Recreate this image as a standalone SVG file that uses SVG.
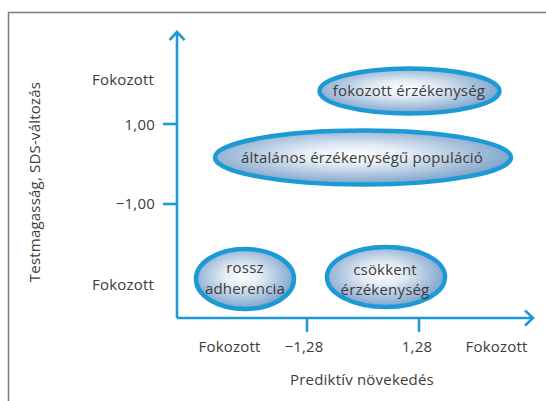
<svg xmlns="http://www.w3.org/2000/svg" width="546" height="401" viewBox="0 0 546 401">
<defs>
<radialGradient id="g" cx="0.47" cy="0.45" r="0.6">
<stop offset="0" stop-color="#ffffff"/>
<stop offset="0.3" stop-color="#e3ecf5"/>
<stop offset="1" stop-color="#6f99c4"/>
</radialGradient>
<marker id="ah" markerWidth="14" markerHeight="18" refX="10" refY="9" orient="auto" markerUnits="userSpaceOnUse">
<path d="M2,1.5 L10,9 L2,16.5" fill="none" stroke="#1b9ad6" stroke-width="2.6"/>
</marker>
</defs>
<style>
text{font-family:"Open Sans","Liberation Sans",sans-serif;font-size:15px;letter-spacing:0.2px;fill:#3c3c3c}
.n ellipse{fill:url(#g);stroke:#1b9ad6;stroke-width:4.5}
.ax{stroke:#1b9ad6;stroke-width:2.6;fill:none}
</style>
<rect x="0" y="0" width="546" height="401" fill="#ffffff"/>
<path d="M8.5,410 L8.5,12.5 L560,12.5" fill="none" stroke="#6d7f8e" stroke-width="1.5"/>
<g id="connectors">
<line class="ax" x1="177" y1="318" x2="177" y2="32" marker-end="url(#ah)"/>
<line class="ax" x1="177" y1="318" x2="533" y2="318" marker-end="url(#ah)"/>
<line class="ax" x1="163" y1="124" x2="177" y2="124"/>
<line class="ax" x1="163" y1="204" x2="177" y2="204"/>
<line class="ax" x1="307" y1="318" x2="307" y2="332"/>
<line class="ax" x1="419" y1="318" x2="419" y2="332"/>
</g>
<g id="labels">
<text x="154" y="85" text-anchor="end">Fokozott</text>
<text x="155" y="130" text-anchor="end">1,00</text>
<text x="155" y="209" text-anchor="end">−1,00</text>
<text x="154" y="290" text-anchor="end">Fokozott</text>
<text x="229.5" y="352" text-anchor="middle">Fokozott</text>
<text x="304" y="352" text-anchor="middle">−1,28</text>
<text x="417" y="352" text-anchor="middle">1,28</text>
<text x="496.5" y="352" text-anchor="middle">Fokozott</text>
<text x="362" y="385" text-anchor="middle">Prediktív növekedés</text>
<text transform="translate(40,182) rotate(-90)" text-anchor="middle">Testmagasság, SDS-változás</text>
</g>
<g id="n1" class="n">
<ellipse cx="409.5" cy="91" rx="90" ry="22.5"/>
<text x="409" y="96" text-anchor="middle">fokozott érzékenység</text>
</g>
<g id="n2" class="n">
<ellipse cx="363" cy="157.5" rx="148" ry="27"/>
<text x="362" y="163" text-anchor="middle">általános érzékenységű populáció</text>
</g>
<g id="n3" class="n">
<ellipse cx="245" cy="279" rx="49" ry="30"/>
<text x="245" y="273" text-anchor="middle">rossz</text>
<text x="245" y="294" text-anchor="middle">adherencia</text>
</g>
<g id="n4" class="n">
<ellipse cx="386" cy="277" rx="59" ry="30"/>
<text x="385" y="275" text-anchor="middle">csökkent</text>
<text x="385" y="295" text-anchor="middle">érzékenység</text>
</g>
</svg>
